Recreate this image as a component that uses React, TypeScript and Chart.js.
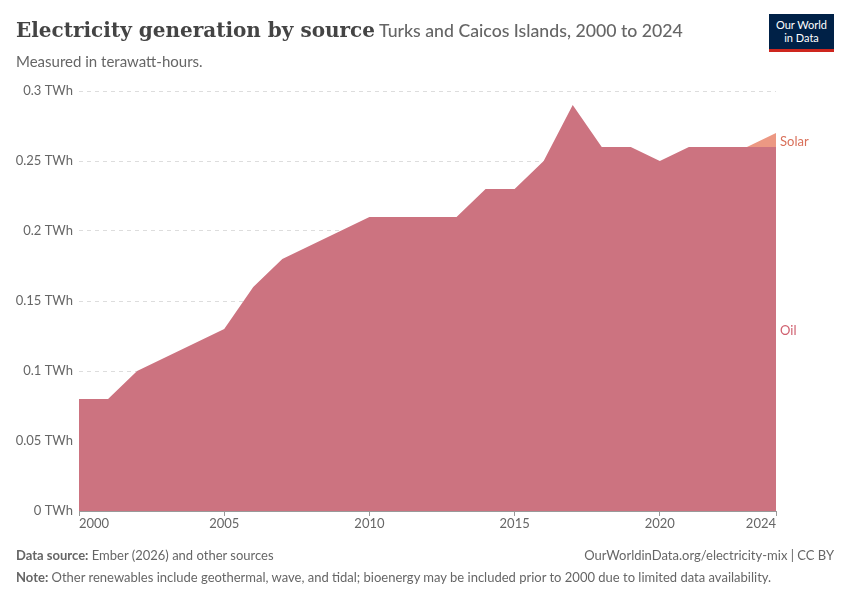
import React, { useEffect, useRef } from "react";
import { Chart, registerables } from "chart.js";
Chart.register(...registerables);

const years = [2000,2001,2002,2003,2004,2005,2006,2007,2008,2009,2010,2011,2012,2013,2014,2015,2016,2017,2018,2019,2020,2021,2022,2023,2024];
const oil = [0.08,0.08,0.10,0.11,0.12,0.13,0.16,0.18,0.19,0.20,0.21,0.21,0.21,0.21,0.23,0.23,0.25,0.29,0.26,0.26,0.25,0.26,0.26,0.26,0.26];
const solar = [0,0,0,0,0,0,0,0,0,0,0,0,0,0,0,0,0,0,0,0,0,0,0,0,0.01];
const xTicks = [2000,2005,2010,2015,2020,2024];
const yTicks = [0,0.05,0.1,0.15,0.2,0.25,0.3];

const OIL = "#cc7380";
const SOLAR = "#ec9883";

export default function App() {
  const ref = useRef<HTMLCanvasElement>(null);
  useEffect(() => {
    document.body.style.margin = "0";
    const labels = {
      id: "lbl",
      afterDatasetsDraw(c: any) {
        const ctx = c.ctx, y = c.scales.y;
        ctx.save();
        ctx.font = "13px Lato";
        ctx.textBaseline = "middle";
        ctx.fillStyle = "#d0606f";
        ctx.fillText("Oil", 780, y.getPixelForValue(0.129));
        ctx.fillStyle = "#d9705a";
        ctx.fillText("Solar", 780, y.getPixelForValue(0.2640));
        ctx.restore();
      },
    };
    const ch = new Chart(ref.current!, {
      type: "line",
      data: {
        datasets: [
          { label: "Oil", data: years.map((t, i) => ({ x: t, y: oil[i] })), backgroundColor: OIL, borderWidth: 0, pointRadius: 0, fill: "origin" },
          { label: "Solar", data: years.map((t, i) => ({ x: t, y: oil[i] + solar[i] })), backgroundColor: SOLAR, borderWidth: 0, pointRadius: 0, fill: "-1" },
        ],
      },
      options: {
        animation: false,
        responsive: false,
        layout: { padding: { top: 91, right: 74, left: 0, bottom: 0 } },
        plugins: { legend: { display: false }, tooltip: { enabled: false } },
        scales: {
          x: {
            type: "linear", min: 2000, max: 2024,
            afterBuildTicks: (s: any) => { s.ticks = xTicks.map(v => ({ value: v })); },
            afterFit: (s: any) => { s.height = 89; },
            grid: { display: true, drawOnChartArea: false, drawTicks: true, tickLength: 5, color: "#999" },
            border: { color: "#999" },
            ticks: { color: "#666", align: "inner", padding: 0, font: { family: "Lato", size: 13 }, callback: (v: any) => String(v), maxRotation: 0 },
          },
          y: {
            min: 0, max: 0.3,
            afterBuildTicks: (s: any) => { s.ticks = yTicks.map(v => ({ value: v })); },
            afterFit: (s: any) => { s.width = 79; },
            grid: { color: "#ddd", drawTicks: false },
            border: { display: false, dash: [4, 4] },
            ticks: { color: "#666", padding: 6, font: { family: "Lato", size: 13 }, callback: (v: any) => `${v} TWh` },
          },
        },
      },
      plugins: [labels],
    });
    return () => ch.destroy();
  }, []);
  return (
    <div style={{ position: "relative", width: 850, height: 600, background: "#fff", fontFamily: "Lato" }}>
      <canvas ref={ref} width={850} height={600} style={{ position: "absolute", left: 0, top: 0 }} />
      <div style={{ position: "absolute", left: 16, top: 18, whiteSpace: "nowrap" }}>
        <span style={{ fontFamily: "'DejaVu Serif', serif", fontSize: 20, color: "#444", fontWeight: 600 }}>Electricity generation by source</span>
        <span style={{ fontSize: 17.7, color: "#666", fontWeight: 500 }}> Turks and Caicos Islands, 2000 to 2024</span>
      </div>
      <div style={{ position: "absolute", left: 16, top: 52, fontSize: 15, color: "#666" }}>Measured in terawatt-hours.</div>
      <div style={{ position: "absolute", right: 16, top: 14, width: 65, height: 38, background: "#002147", color: "#fff", fontSize: 11, lineHeight: "13px", textAlign: "center", paddingTop: 4, boxSizing: "border-box", borderBottom: "3px solid #ce261e" }}>Our World<br />in Data</div>
      <div style={{ position: "absolute", left: 16, top: 547, fontSize: 13, color: "#666" }}><b>Data source:</b> Ember (2026) and other sources</div>
      <div style={{ position: "absolute", right: 16, top: 547, fontSize: 13, color: "#666" }}>OurWorldinData.org/electricity-mix | CC BY</div>
      <div style={{ position: "absolute", left: 16, top: 569, fontSize: 13, color: "#666" }}><b>Note:</b> Other renewables include geothermal, wave, and tidal; bioenergy may be included prior to 2000 due to limited data availability.</div>
    </div>
  );
}
